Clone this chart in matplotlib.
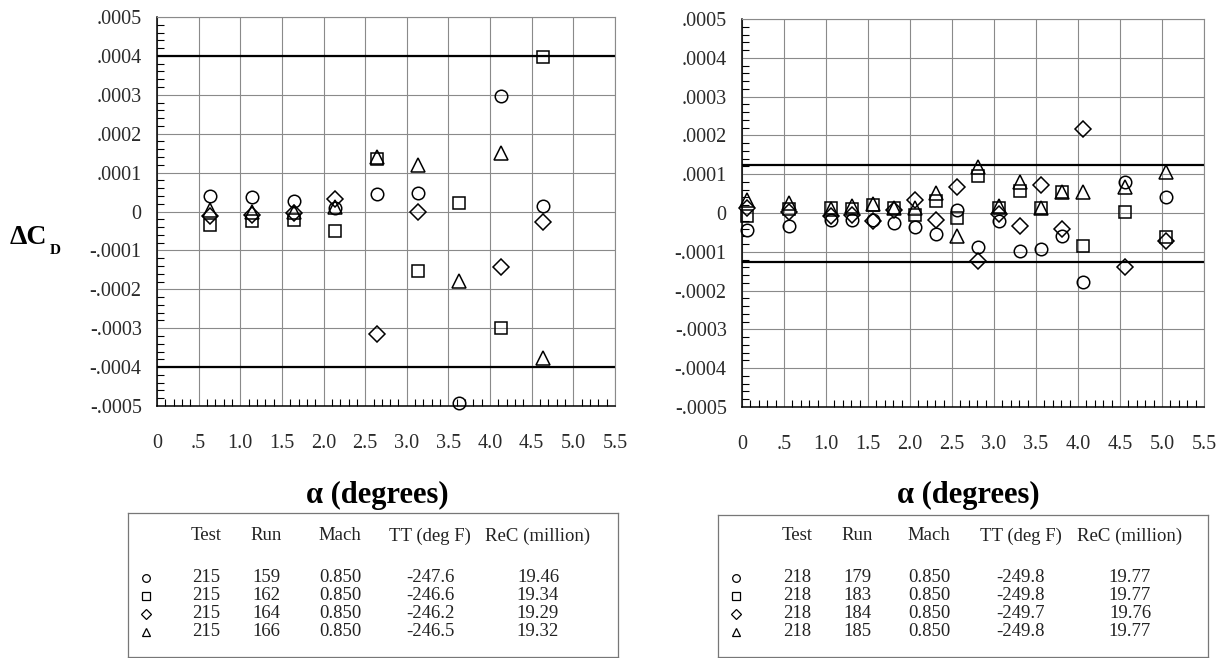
import matplotlib
matplotlib.use("Agg")
import matplotlib.pyplot as plt
import numpy as np

plt.rcParams['font.family'] = ['Liberation Serif', 'DejaVu Serif']

# left panel (test 215), delta CD in units of 1e-4
alpha_l = [0.64, 1.14, 1.64, 2.14, 2.64, 3.13, 3.63, 4.13, 4.63]
run159 = [0.39, 0.37, 0.28, 0.09, 0.46, 0.47, -4.92, 2.98, 0.15]
run162 = [-0.35, -0.25, -0.23, -0.49, 1.36, -1.54, 0.21, -2.99, 3.97]
run164 = [-0.12, -0.09, -0.03, 0.33, -3.15, -0.01, np.nan, -1.42, -0.26]
run166 = [0.03, 0.0, 0.0, 0.12, 1.40, 1.19, -1.78, 1.51, -3.76]

# right panel (test 218)
alpha_r = [0.06, 0.56, 1.06, 1.31, 1.56, 1.81, 2.06, 2.31, 2.56, 2.81,
           3.06, 3.31, 3.56, 3.81, 4.06, 4.56, 5.05]
run179 = [-0.45, -0.33, -0.17, -0.17, -0.18, -0.27, -0.37, -0.53, 0.09, -0.88,
          -0.21, -0.98, -0.94, -0.58, -1.79, 0.81, 0.40]
run183 = [-0.08, 0.10, 0.14, 0.10, 0.21, 0.14, -0.06, 0.30, -0.13, 0.96,
          0.13, 0.57, 0.13, 0.55, -0.85, 0.03, -0.62]
run184 = [0.13, 0.03, -0.08, -0.04, -0.21, 0.07, 0.34, -0.17, 0.68, -1.23,
          -0.03, -0.34, 0.72, -0.40, 2.16, -1.40, -0.72]
run185 = [0.33, 0.27, 0.10, 0.17, 0.23, 0.13, 0.13, 0.51, -0.58, 1.19,
          0.17, 0.81, 0.13, 0.53, 0.53, 0.66, 1.05]

limit_l = 0.0004
limit_r = 0.000125

yticks = [-5, -4, -3, -2, -1, 0, 1, 2, 3, 4, 5]
ylabels = ["-.0005", "-.0004", "-.0003", "-.0002", "-.0001", "0",
           ".0001", ".0002", ".0003", ".0004", ".0005"]
xticks = [0, 0.5, 1, 1.5, 2, 2.5, 3, 3.5, 4, 4.5, 5, 5.5]
xlabels = ["0", ".5", "1.0", "1.5", "2.0", "2.5", "3.0", "3.5", "4.0", "4.5", "5.0", "5.5"]

header = ["Test", "Run", "Mach", "TT (deg F)", "ReC (million)"]
table_l = [["215", "159", "0.850", "-247.6", "19.46"],
           ["215", "162", "0.850", "-246.6", "19.34"],
           ["215", "164", "0.850", "-246.2", "19.29"],
           ["215", "166", "0.850", "-246.5", "19.32"]]
table_r = [["218", "179", "0.850", "-249.8", "19.77"],
           ["218", "183", "0.850", "-249.8", "19.77"],
           ["218", "184", "0.850", "-249.7", "19.76"],
           ["218", "185", "0.850", "-249.8", "19.77"]]

markers = [("o", 9), ("s", 9), ("D", 8.5), ("^", 9.5)]

W, H = 1218, 658
fig = plt.figure(figsize=(W / 100, H / 100), dpi=100)


def box(x0, y0, x1, y1):
    # pixel box (top-left origin) -> figure fraction
    return [x0 / W, 1 - y1 / H, (x1 - x0) / W, (y1 - y0) / H]


def setup(ax, lim):
    ax.set_xlim(0, 5.5)
    ax.set_ylim(-0.0005, 0.0005)
    ax.set_xticks(xticks)
    ax.set_xticklabels(xlabels)
    ax.set_yticks([v * 1e-4 for v in yticks])
    ax.set_yticklabels(ylabels)
    ax.set_xticks(np.arange(0, 5.51, 0.1), minor=True)
    ax.set_yticks(np.arange(-5, 5.01, 0.2) * 1e-4, minor=True)
    ax.grid(True, which="major", color="#8a8a8a", lw=0.8)
    ax.tick_params(which="both", direction="in", top=False, right=False,
                   color="k", width=0.8, labelsize=14.5, labelcolor="#2a2a2a")
    ax.tick_params(which="major", length=0)
    ax.tick_params(which="minor", length=5)
    ax.tick_params(axis="x", pad=20)
    ax.tick_params(axis="y", pad=11)
    for s in ["left", "bottom"]:
        ax.spines[s].set_color("k")
        ax.spines[s].set_linewidth(1.1)
    for s in ["top", "right"]:
        ax.spines[s].set_color("#8a8a8a")
        ax.spines[s].set_linewidth(0.8)
    ax.axhline(lim, color="k", lw=1.6)
    ax.axhline(-lim, color="k", lw=1.6)


def draw(ax, alpha, series):
    for vals, (m, ms) in zip(series, markers):
        y = np.array(vals) * 1e-4
        ax.plot(alpha, y, ls="none", marker=m, ms=ms, mfc="none", mec="k",
                mew=1.1, clip_on=False, zorder=5)


def legend_table(x0, x1, top, cols, rows):
    # axes in pixel units so rows/columns can be placed directly
    ax = fig.add_axes(box(x0, top, x1, 657))
    ax.set_xlim(x0, x1)
    ax.set_ylim(657, top)
    ax.set_xticks([])
    ax.set_yticks([])
    for s in ax.spines.values():
        s.set_color("#777")
        s.set_linewidth(0.9)
    for cx, h in zip(cols[1:], header):
        ax.text(cx, 536, h, ha="center", va="center", fontsize=13.5, color="#222")
    for i, (row, (m, ms)) in enumerate(zip(rows, markers)):
        yy = 578 + 18 * i
        ax.plot([cols[0]], [yy], marker=m, ms=5.5, mfc="none", mec="k", mew=0.9, ls="none")
        for cx, val in zip(cols[1:], row):
            ax.text(cx, yy, val, ha="center", va="center", fontsize=13.5, color="#222")


ax1 = fig.add_axes(box(157, 17, 615, 406))
setup(ax1, limit_l)
draw(ax1, alpha_l, [run159, run162, run164, run166])

ax2 = fig.add_axes(box(742, 19, 1204, 407))
setup(ax2, limit_r)
draw(ax2, alpha_r, [run179, run183, run184, run185])

fig.text(377 / W, 1 - 495 / H, "α (degrees)", ha="center", va="center",
         fontsize=22, fontweight="bold")
fig.text(968 / W, 1 - 495 / H, "α (degrees)", ha="center", va="center",
         fontsize=22, fontweight="bold")

fig.text(10 / W, 1 - 238 / H, "ΔC", ha="left", va="center", fontsize=20, fontweight="bold")
fig.text(50 / W, 1 - 250 / H, "D", ha="left", va="center", fontsize=11, fontweight="bold")

legend_table(128, 618, 513, [146, 206, 266, 340, 430, 538], table_l)
legend_table(718, 1208, 515, [736, 797, 857, 929, 1021, 1130], table_r)

fig.savefig("out.png", dpi=100)
